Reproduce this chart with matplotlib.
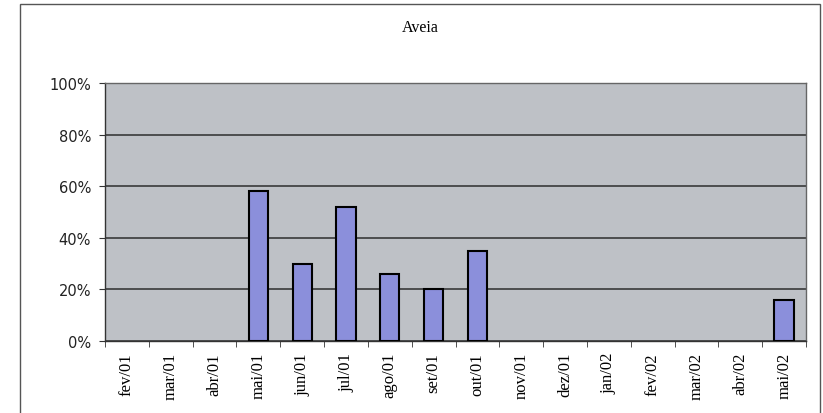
import matplotlib.pyplot as plt
import numpy as np
from matplotlib.patches import Rectangle
from matplotlib.ticker import FixedLocator, PercentFormatter

months = ["fev/01", "mar/01", "abr/01", "mai/01", "jun/01", "jul/01", "ago/01",
          "set/01", "out/01", "nov/01", "dez/01", "jan/02", "fev/02", "mar/02",
          "abr/02", "mai/02"]
share = [0, 0, 0, 58, 30, 52, 26, 20, 35, 0, 0, 0, 0, 0, 0, 16]
y_ticks = [0, 20, 40, 60, 80, 100]

fig = plt.figure(figsize=(8.23, 4.14), dpi=100)
fig.patch.set_facecolor("white")

# chart frame around everything
fig.patches.append(Rectangle((20 / 823, -0.01), 800 / 823, 1.0 - 5 / 414 + 0.01,
                             transform=fig.transFigure, fill=False,
                             edgecolor="#555555", linewidth=1.0))

ax = fig.add_axes([105 / 823, 72 / 414, 701 / 823, 258 / 414])
ax.set_facecolor("#bec1c6")

x = np.arange(len(months))
vals = np.array(share, dtype=float)
# empty months get no bar at all
nz = vals > 0
ax.bar(x[nz], vals[nz], width=0.44, color="#8b8fdb", edgecolor="black",
       linewidth=1.5, zorder=3)

ax.set_xlim(-0.5, len(months) - 0.5)
ax.set_ylim(0, 100)
ax.set_yticks(y_ticks)
ax.yaxis.set_major_formatter(PercentFormatter(decimals=0))
ax.grid(axis="y", color="#2e2e2e", linewidth=1.1, zorder=1)

ax.set_xticks(x)
ax.set_xticklabels(months, rotation=90, family="Liberation Serif", fontsize=12)
ax.xaxis.set_minor_locator(FixedLocator(np.arange(-0.5, len(months), 1.0)))
ax.tick_params(axis="x", which="major", length=0, pad=8)
ax.tick_params(axis="x", which="minor", length=4, color="#333333")
ax.tick_params(axis="y", length=4, color="#333333", labelsize=10.5, pad=6)
for lbl in ax.get_yticklabels():
    lbl.set_family("DejaVu Sans")
    lbl.set_color("#222222")

for side in ["left", "bottom"]:
    ax.spines[side].set_color("#333333")
    ax.spines[side].set_linewidth(1.0)
for side in ["top", "right"]:
    ax.spines[side].set_color("#666666")
    ax.spines[side].set_linewidth(1.0)

fig.text(420 / 823, 1 - 28 / 414, "Aveia", ha="center", va="center",
         family="Liberation Serif", fontsize=11.5)

fig.savefig("out.png", dpi=100)
